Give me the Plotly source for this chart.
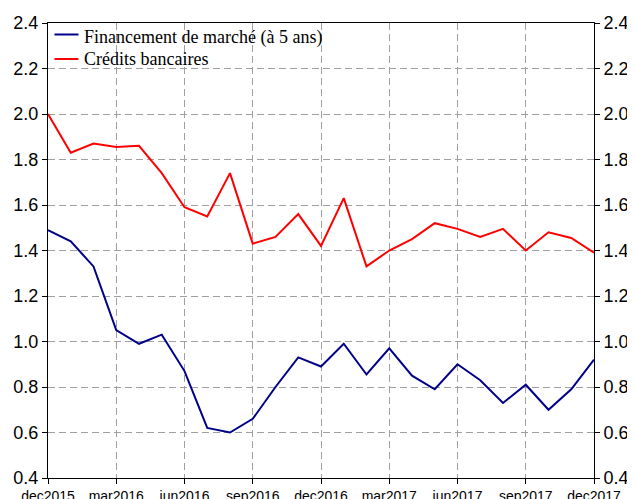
import plotly.graph_objects as go

months = ["dec2015", "jan2016", "feb2016", "mar2016", "apr2016", "may2016", "jun2016",
          "jul2016", "aug2016", "sep2016", "oct2016", "nov2016", "dec2016", "jan2017",
          "feb2017", "mar2017", "apr2017", "may2017", "jun2017", "jul2017", "aug2017",
          "sep2017", "oct2017", "nov2017", "dec2017"]
marche = [1.49, 1.44, 1.33, 1.05, 0.99, 1.03, 0.87, 0.62, 0.60, 0.66, 0.80, 0.93, 0.89,
          0.99, 0.855, 0.97, 0.85, 0.79, 0.90, 0.83, 0.73, 0.81, 0.70, 0.79, 0.92]
credits = [2.00, 1.83, 1.87, 1.855, 1.86, 1.74, 1.59, 1.55, 1.74, 1.43, 1.46, 1.56, 1.42,
           1.63, 1.33, 1.40, 1.45, 1.52, 1.495, 1.46, 1.495, 1.40, 1.48, 1.455, 1.39]
tick_months = months[::3]
y_ticks = [0.4, 0.6, 0.8, 1.0, 1.2, 1.4, 1.6, 1.8, 2.0, 2.2, 2.4]
series_names = ["Financement de marché (à 5 ans)", "Crédits bancaires"]
series_colors = ["#000088", "#ff0000"]

# page body has an 8px default margin; figure sized to fit the window
OFF = 8
W, H = 635 - OFF, 499 - OFF
ML, MT = 47.5 - OFF, 23 - OFF
MR, MB = W - (594 - OFF), H - (478 - OFF)
PW, PH = W - ML - MR, H - MT - MB


def px_x(px):
    return (px - OFF - ML) / PW


def px_y(py):
    return 1 - (py - OFF - MT) / PH


fig = go.Figure()
for name, vals, col in zip(series_names, [marche, credits], series_colors):
    fig.add_trace(go.Scatter(x=months, y=vals, mode="lines", name=name,
                             line=dict(color=col, width=2), showlegend=False))
fig.add_trace(go.Scatter(x=months, y=credits, mode="lines", yaxis="y2", showlegend=False,
                         line=dict(color="rgba(0,0,0,0)", width=0), hoverinfo="skip"))

# manual legend (window pixel positions)
for i, (name, col) in enumerate(zip(series_names, series_colors)):
    line_y = [34.5, 59][i]
    text_y = [38, 59][i]
    fig.add_shape(type="line", xref="paper", yref="paper",
                  x0=px_x(54), x1=px_x(78), y0=px_y(line_y), y1=px_y(line_y),
                  line=dict(color=col, width=2))
    fig.add_annotation(xref="paper", yref="paper", x=px_x(82), y=px_y(text_y),
                       xanchor="left", yanchor="middle", text=name, showarrow=False,
                       font=dict(family="Liberation Serif, Times New Roman", size=18,
                                 color="black"))

grid = dict(showgrid=True, gridcolor="#a0a0a0", gridwidth=1, griddash="7px,4px")
fig.update_layout(
    width=W, height=H,
    margin=dict(l=ML, r=MR, t=MT, b=MB),
    paper_bgcolor="white", plot_bgcolor="white",
    font=dict(family="Liberation Sans, Arial", color="black"),
    xaxis=dict(type="category", range=[0, 24], tickvals=tick_months, ticktext=tick_months,
               showline=True, mirror=True, linecolor="black", linewidth=1, ticks="outside",
               ticklen=5, tickcolor="black", tickfont=dict(size=14), zeroline=False,
               automargin=False, **grid),
    yaxis=dict(range=[0.4, 2.4], tickvals=y_ticks, tickformat=".1f", showline=True,
               linecolor="black", linewidth=1, ticks="outside", ticklen=5, tickcolor="black",
               tickfont=dict(size=18), zeroline=False, automargin=False, **grid),
    yaxis2=dict(range=[0.4, 2.4], tickvals=y_ticks, tickformat=".1f", overlaying="y",
                side="right", showline=True, linecolor="black", linewidth=1, ticks="outside",
                ticklen=5, tickcolor="black", tickfont=dict(size=18), showgrid=False,
                zeroline=False, automargin=False),
    showlegend=False,
)

fig.write_html("out.html")
